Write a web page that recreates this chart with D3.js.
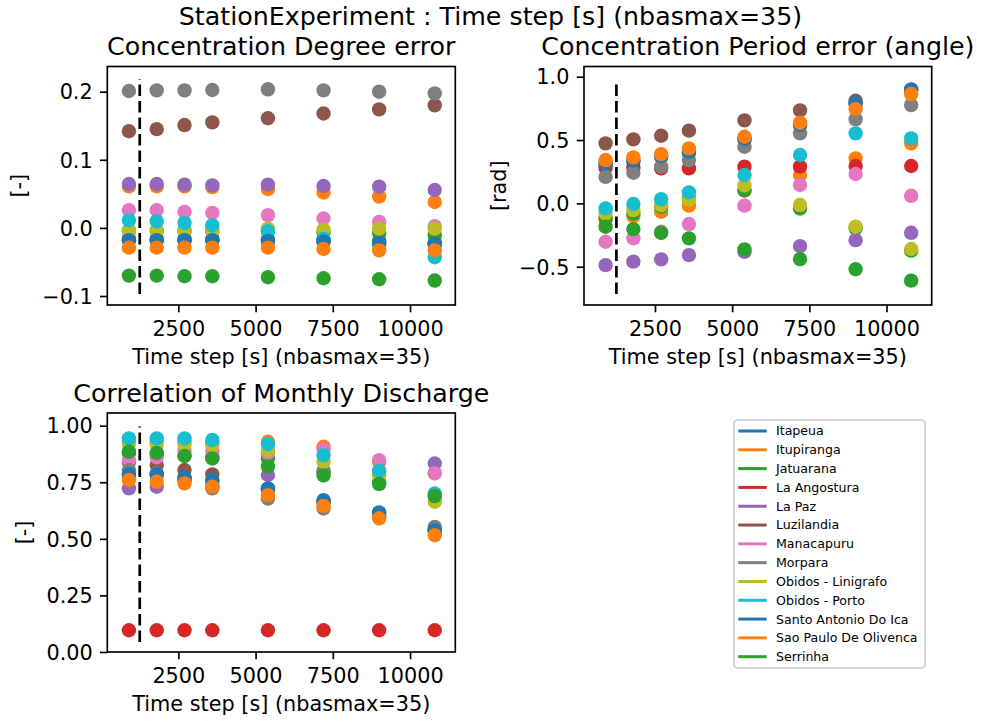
<!DOCTYPE html>
<html>
<head>
<meta charset="utf-8">
<script src="https://cdn.jsdelivr.net/npm/d3@7"></script>
<style>
  html, body { margin: 0; padding: 0; background: #fff; }
  svg { display: block; font-family: "DejaVu Sans", sans-serif; }
</style>
</head>
<body>
<svg id="chart" width="981" height="724"></svg>
<script>
// ---------------- DATA ----------------
const stations = ["Itapeua", "Itupiranga", "Jatuarana", "La Angostura", "La Paz", "Luzilandia",
  "Manacapuru", "Morpara", "Obidos - Linigrafo", "Obidos - Porto", "Santo Antonio Do Ica",
  "Sao Paulo De Olivenca", "Serrinha"];

const timeSteps = [900, 1800, 2700, 3600, 5400, 7200, 9000, 10800];
const thresholdStep = 1250;

// Concentration Degree error [-], one row per station
const degreeError = [
  [-0.016, -0.016, -0.016, -0.016, -0.017, -0.017, -0.019, -0.021],
  [0.061, 0.061, 0.061, 0.060, 0.057, 0.052, 0.046, 0.038],
  [-0.004, -0.004, -0.004, -0.004, -0.004, -0.006, -0.008, -0.011],
  [-0.018, -0.018, -0.018, -0.018, -0.019, -0.020, -0.022, -0.024],
  [0.0645, 0.0645, 0.0635, 0.0625, 0.0635, 0.0615, 0.0605, 0.0557],
  [0.142, 0.145, 0.151, 0.155, 0.161, 0.168, 0.174, 0.180],
  [0.026, 0.026, 0.0236, 0.022, 0.0187, 0.0138, 0.0089, 0.0025],
  [0.201, 0.202, 0.202, 0.2025, 0.2035, 0.202, 0.200, 0.1975],
  [-0.0045, -0.0045, -0.0045, -0.0045, -0.001, -0.0025, -0.001, -0.001],
  [0.0113, 0.0098, 0.0074, 0.0039, -0.005, -0.016, -0.024, -0.043],
  [-0.018, -0.018, -0.018, -0.018, -0.019, -0.020, -0.022, -0.024],
  [-0.029, -0.029, -0.029, -0.029, -0.029, -0.031, -0.033, -0.033],
  [-0.070, -0.070, -0.071, -0.071, -0.0724, -0.0739, -0.0754, -0.0773]
];

// Concentration Period error (angle) [rad]
const periodError = [
  [0.310, 0.330, 0.368, 0.400, 0.505, 0.615, 0.785, 0.895],
  [-0.130, -0.100, -0.066, -0.018, 0.100, 0.224, 0.355, 0.474],
  [-0.118, -0.080, -0.026, 0.040, 0.105, -0.040, -0.197, -0.373],
  [0.282, 0.282, 0.276, 0.276, 0.290, 0.290, 0.295, 0.295],
  [-0.487, -0.460, -0.442, -0.408, -0.382, -0.337, -0.290, -0.232],
  [0.474, 0.505, 0.534, 0.574, 0.655, 0.734, 0.810, 0.895],
  [-0.303, -0.276, -0.224, -0.163, -0.018, 0.145, 0.232, 0.060],
  [0.210, 0.242, 0.290, 0.342, 0.447, 0.553, 0.663, 0.776],
  [-0.080, -0.053, -0.013, 0.030, 0.142, -0.013, -0.184, -0.360],
  [-0.040, -0.005, 0.034, 0.087, 0.224, 0.382, 0.553, 0.513],
  [0.316, 0.337, 0.374, 0.408, 0.510, 0.620, 0.790, 0.900],
  [0.342, 0.363, 0.389, 0.434, 0.526, 0.637, 0.745, 0.863],
  [-0.184, -0.203, -0.232, -0.276, -0.363, -0.440, -0.520, -0.610]
];

// Correlation of Monthly Discharge [-]
const monthlyCorrelation = [
  [0.781, 0.781, 0.766, 0.755, 0.718, 0.666, 0.612, 0.533],
  [0.930, 0.930, 0.930, 0.925, 0.929, 0.907, 0.840, 0.790],
  [0.880, 0.875, 0.870, 0.860, 0.855, 0.800, 0.750, 0.690],
  [0.096, 0.096, 0.096, 0.096, 0.096, 0.096, 0.096, 0.096],
  [0.723, 0.730, 0.765, 0.735, 0.782, 0.795, 0.800, 0.833],
  [0.840, 0.826, 0.804, 0.785, 0.720, 0.660, 0.600, 0.540],
  [0.848, 0.860, 0.890, 0.885, 0.880, 0.895, 0.848, 0.790],
  [0.804, 0.790, 0.760, 0.723, 0.678, 0.634, 0.600, 0.553],
  [0.920, 0.917, 0.917, 0.914, 0.892, 0.840, 0.780, 0.664],
  [0.944, 0.944, 0.944, 0.937, 0.919, 0.870, 0.800, 0.700],
  [0.786, 0.786, 0.771, 0.760, 0.723, 0.671, 0.617, 0.538],
  [0.760, 0.752, 0.745, 0.730, 0.693, 0.645, 0.590, 0.516],
  [0.885, 0.880, 0.866, 0.855, 0.820, 0.780, 0.742, 0.689]
];

const xTicks = [2500, 5000, 7500, 10000];
const degreeTicks = [-0.1, 0.0, 0.1, 0.2];
const periodTicks = [-0.5, 0.0, 0.5, 1.0];
const corrTicks = [0.00, 0.25, 0.50, 0.75, 1.00];

// ---------------- DRAWING ----------------
const svg = d3.select("#chart");
const color = d3.scaleOrdinal().domain(d3.range(10)).range(d3.schemeCategory10);
const colorOf = i => color(i % 10);

const FS = 20.8, TFS = 25.3, LW = 1.67, TL = 7.3, R = 7.2;

svg.append("text")
  .attr("x", 490.5).attr("y", 25)
  .attr("text-anchor", "middle")
  .attr("font-size", TFS)
  .text("StationExperiment : Time step [s] (nbasmax=35)");

const panels = [
  { title: "Concentration Degree error", ylabel: "[-]", data: degreeError,
    box: [107.3, 455.3, 66.5, 305], ydom: [-0.1132, 0.237], yticks: degreeTicks, fmt: ".1f",
    vline: [-0.097, 0.2185], ylabX: 26 },
  { title: "Concentration Period error (angle)", ylabel: "[rad]", data: periodError,
    box: [584, 931.7, 66.5, 305], ydom: [-0.802, 1.0805], yticks: periodTicks, fmt: ".1f",
    vline: [-0.715, 0.978], ylabX: 506 },
  { title: "Correlation of Monthly Discharge", ylabel: "[-]", data: monthlyCorrelation,
    box: [107.3, 455.3, 413, 652], ydom: [0, 1.056], yticks: corrTicks, fmt: ".2f",
    vline: [0.044, 0.996], ylabX: 30.6 }
];

panels.forEach(p => {
  const [l, r, t, b] = p.box;
  const x = d3.scaleLinear().domain([200, 11465]).range([l, r]);
  const y = d3.scaleLinear().domain(p.ydom).range([b, t]);
  const g = svg.append("g");

  // points
  p.data.forEach((row, si) => {
    g.append("g").selectAll("circle")
      .data(row.map((v, i) => [timeSteps[i], v]))
      .join("circle")
      .attr("cx", d => x(d[0]))
      .attr("cy", d => y(d[1]))
      .attr("r", R)
      .attr("fill", colorOf(si));
  });

  // dashed threshold line
  g.append("line")
    .attr("x1", x(thresholdStep)).attr("x2", x(thresholdStep))
    .attr("y1", y(p.vline[0])).attr("y2", y(p.vline[1]))
    .attr("stroke", "#000").attr("stroke-width", 2.7)
    .attr("stroke-dasharray", "11.5,5");

  // x axis
  const xa = g.append("g").attr("transform", `translate(0,${b})`)
    .call(d3.axisBottom(x).tickValues(xTicks).tickFormat(d3.format("d"))
      .tickSize(TL).tickPadding(7.3));
  xa.select(".domain").remove();
  xa.selectAll("line").attr("stroke-width", LW);
  xa.selectAll("text").attr("font-size", FS).attr("font-family", "DejaVu Sans")
    .attr("fill", "#000").attr("dy", null).attr("y", 31);

  // y axis
  const ya = g.append("g").attr("transform", `translate(${l},0)`)
    .call(d3.axisLeft(y).tickValues(p.yticks).tickFormat(d3.format(p.fmt))
      .tickSize(TL).tickPadding(7.3));
  ya.select(".domain").remove();
  ya.selectAll("line").attr("stroke-width", LW);
  ya.selectAll("text").attr("font-size", FS).attr("font-family", "DejaVu Sans")
    .attr("fill", "#000").attr("dy", "0.35em");

  // frame
  g.append("rect").attr("x", l).attr("y", t).attr("width", r - l).attr("height", b - t)
    .attr("fill", "none").attr("stroke", "#000").attr("stroke-width", LW);

  // labels
  g.append("text").attr("x", (l + r) / 2).attr("y", t - 11.5)
    .attr("text-anchor", "middle").attr("font-size", TFS).text(p.title);
  g.append("text").attr("x", (l + r) / 2).attr("y", b + 58.5)
    .attr("text-anchor", "middle").attr("font-size", FS).text("Time step [s] (nbasmax=35)");
  g.append("text")
    .attr("transform", `translate(${p.ylabX},${(t + b) / 2}) rotate(-90)`)
    .attr("text-anchor", "middle").attr("font-size", FS).text(p.ylabel);
});

// legend
const lg = svg.append("g");
lg.append("rect").attr("x", 734).attr("y", 420).attr("width", 191).attr("height", 248)
  .attr("rx", 4).attr("fill", "#fff").attr("fill-opacity", 0.8)
  .attr("stroke", "#cccccc").attr("stroke-width", 1.6);
const ly = d3.scaleLinear().domain([0, stations.length - 1]).range([431, 656.7]);
const items = lg.selectAll("g.item").data(stations).join("g").attr("class", "item")
  .attr("transform", (d, i) => `translate(0,${ly(i)})`);
items.append("line").attr("x1", 738.3).attr("x2", 766.7).attr("y1", 0).attr("y2", 0)
  .attr("stroke", (d, i) => colorOf(i)).attr("stroke-width", 3);
items.append("text").attr("x", 776).attr("y", 0).attr("dy", "0.35em")
  .attr("font-size", 12.6).text(d => d);
</script>
</body>
</html>
